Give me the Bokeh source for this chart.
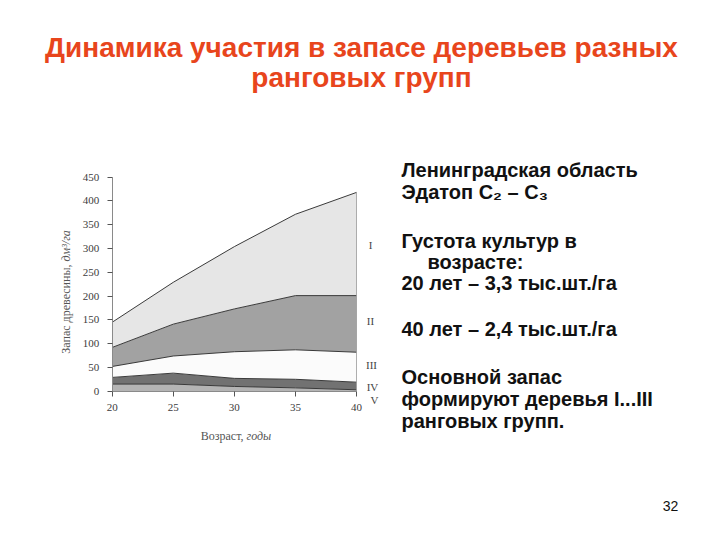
import numpy as np
from bokeh.plotting import figure
from bokeh.models import ColumnDataSource, FixedTicker, LinearAxis
from bokeh.core.properties import value
from bokeh.embed import file_html
from bokeh.resources import INLINE

# ---- data ----
ages = [20, 25, 30, 35, 40]
group_V = [15, 15, 10, 7, 3]
group_IV = [14, 23, 17, 18, 16]
group_III = [23, 36, 56, 62, 63]
group_II = [40, 67, 90, 114, 119]
group_I = [53, 88, 131, 171, 217]
y_ticks = [0, 50, 100, 150, 200, 250, 300, 350, 400, 450]
x_ticks = [20, 25, 30, 35, 40]
group_names = ["V", "IV", "III", "II", "I"]
group_colors = ["#b4b4b4", "#727272", "#fbfbfb", "#a2a2a2", "#e6e6e6"]

title_lines = ["Динамика участия в запасе деревьев разных", "ранговых групп"]
side_text = [
    ("Ленинградская область", 0),
    ("Эдатоп С₂ – С₃", 0),
    ("Густота культур в", 0),
    ("возрасте:", 1),
    ("20 лет – 3,3 тыс.шт./га", 0),
    ("40 лет – 2,4 тыс.шт./га", 0),
    ("Основной запас", 0),
    ("формируют деревья I...III", 0),
    ("ранговых групп.", 0),
]
roman_labels = ["I", "II", "III", "IV", "V"]

W, H = 712, 532
PX_X = 244.3 / 20.0    # pixels per year
PX_Y = 214.0 / 450.0   # pixels per dm3/ha
X0_PX, Y0_PX = 111.7, 390.7  # canvas position of (20, 0)

x_start = 20 - X0_PX / PX_X
x_end = x_start + W / PX_X
y_end = Y0_PX / PX_Y
y_start = y_end - H / PX_Y


def dx(px):
    return x_start + px / PX_X


def dy(py):
    return y_end - py / PX_Y


source = ColumnDataSource(dict(age=ages, V=group_V, IV=group_IV, III=group_III,
                               II=group_II, I=group_I))

p = figure(width=W, height=H, output_backend="svg", toolbar_location=None,
           x_range=(x_start, x_end), y_range=(y_start, y_end),
           x_axis_type=None, y_axis_type=None, min_border=0)
p.outline_line_color = None
p.xgrid.visible = False
p.ygrid.visible = False
p.background_fill_color = "white"
p.border_fill_color = "white"

p.varea_stack(stackers=group_names, x="age", color=group_colors, source=source)

# boundary lines
cum = np.zeros(len(ages))
for name in group_names:
    cum = cum + np.array(source.data[name], dtype=float)
    p.line(ages, cum.tolist(), line_color="#3a3a3a", line_width=1)
p.line([40, 40], [0, float(cum[-1])], line_color="#999999", line_width=0.8)

# axes placed at data locations
xax = LinearAxis(fixed_location=0, bounds=(20, 40), ticker=FixedTicker(ticks=x_ticks))
yax = LinearAxis(fixed_location=20, bounds=(0, 450), ticker=FixedTicker(ticks=y_ticks))
for ax in (xax, yax):
    ax.axis_line_color = "#8a8a8a"
    ax.major_tick_line_color = "#555555"
    ax.minor_tick_line_color = None
    ax.major_tick_in = 0
    ax.major_tick_out = 5
    ax.major_label_standoff = 8
    ax.major_label_text_font = "Liberation Serif"
    ax.major_label_text_font_size = "11px"
    ax.major_label_text_color = "#3c3c3c"
p.add_layout(xax, "below")
p.add_layout(yax, "left")

serif = value("Liberation Serif")
sans = value("Liberation Sans")

# axis titles (normal + italic parts)
p.text(x=[dx(246)], y=[dy(435)], text=["Возраст, "], text_font=serif,
       text_font_size=value("12px"), text_color="#555555",
       text_align="right", text_baseline="middle")
p.text(x=[dx(246)], y=[dy(435)], text=["годы"], text_font=serif,
       text_font_size=value("12px"), text_font_style="italic", text_color="#555555",
       text_align="left", text_baseline="middle")
p.text(x=[dx(65)], y=[dy(261)], text=["Запас древесины, "], text_font=serif,
       text_font_size=value("12px"), text_color="#555555", angle=np.pi / 2,
       text_align="right", text_baseline="middle")
p.text(x=[dx(65)], y=[dy(261)], text=["дм³/га"], text_font=serif,
       text_font_size=value("12px"), text_font_style="italic", text_color="#555555",
       angle=np.pi / 2, text_align="left", text_baseline="middle")

# title
p.text(x=[dx(361)] * len(title_lines), y=[dy(47 + i * 30) for i in range(len(title_lines))],
       text=title_lines, text_font=sans, text_font_size=value("28px"),
       text_font_style="bold", text_color="#e8451c",
       text_align="center", text_baseline="middle")

# side text
side_y = [169, 191, 240, 261, 282, 328, 376, 398, 420]
p.text(x=[dx(401 + ind * 26) for _, ind in side_text], y=[dy(v) for v in side_y],
       text=[t for t, _ in side_text], text_font=sans, text_font_size=value("20px"),
       text_font_style="bold", text_color="#111111",
       text_align="left", text_baseline="middle")

# roman numerals
roman_pos = [(370, 244), (370, 320), (371, 364), (372, 386), (374, 399)]
p.text(x=[dx(a) for a, _ in roman_pos], y=[dy(b) for _, b in roman_pos],
       text=roman_labels, text_font=serif, text_font_size=value("11px"),
       text_color="#444444", text_align="center", text_baseline="middle")

# page number
p.text(x=[dx(670)], y=[dy(505)], text=["32"], text_font=sans,
       text_font_size=value("14px"), text_color="#111111",
       text_align="center", text_baseline="middle")

open("out.html", "w").write(file_html(p, INLINE))
